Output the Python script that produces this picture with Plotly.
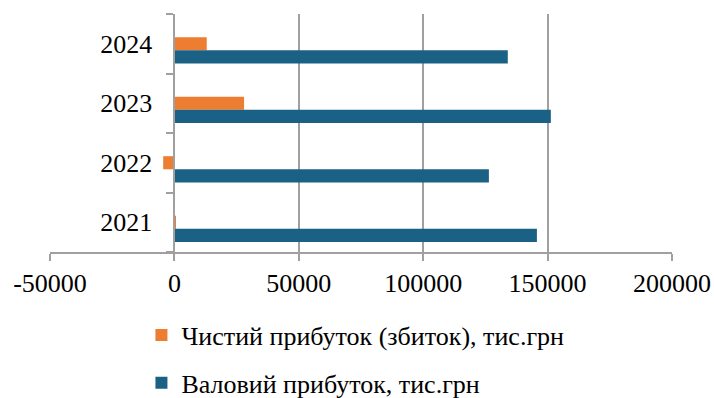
import plotly.graph_objects as go

# Years shown on the category axis (bottom to top)
years = ["2021", "2022", "2023", "2024"]

# Net profit (loss), thousand UAH
net_profit = [300, -4500, 28000, 13000]

# Gross profit, thousand UAH
gross_profit = [145700, 126400, 151300, 134000]

x_ticks = [-50000, 0, 50000, 100000, 150000, 200000]

ORANGE = "#ED7D31"
BLUE = "#1B6085"
GRID = "#A0A0A0"
FONT = "Times New Roman, Liberation Serif, DejaVu Serif, serif"

# plot area geometry (pixels)
W, H = 714, 398
L, R, T, B = 50, 42, 14, 146
x_min, x_max = -50000, 200000
zero_pos = (0 - x_min) / (x_max - x_min)

bar_w = 0.22

fig = go.Figure()
fig.add_trace(go.Bar(
    y=years, x=net_profit, orientation="h",
    name="Чистий прибуток (збиток), тис.грн",
    marker=dict(color=ORANGE, line=dict(width=0)),
    width=bar_w, offset=-0.11,
    legendgroup="a",
))
fig.add_trace(go.Bar(
    y=years, x=gross_profit, orientation="h",
    name="Валовий прибуток, тис.грн",
    marker=dict(color=BLUE, line=dict(width=0)),
    width=bar_w, offset=-0.33,
    legendgroup="b",
))

fig.update_layout(
    width=W, height=H,
    margin=dict(l=L, r=R, t=T, b=B, pad=0, autoexpand=False),
    paper_bgcolor="white", plot_bgcolor="white",
    font=dict(family=FONT, size=26, color="black"),
    barmode="overlay",
    showlegend=True,
    legend=dict(
        orientation="v",
        x=0.147, xanchor="left",
        y=-0.25, yanchor="top",
        traceorder="grouped",
        tracegroupgap=11,
        font=dict(family=FONT, size=26, color="black"),
        bgcolor="rgba(0,0,0,0)",
        itemwidth=30,
    ),
    xaxis=dict(
        range=[x_min, x_max],
        tickvals=x_ticks,
        ticktext=[str(v) for v in x_ticks],
        showgrid=True, gridcolor=GRID, gridwidth=2,
        zeroline=False,
        showline=True, linecolor=GRID, linewidth=2,
        ticks="outside", ticklen=7, tickwidth=2, tickcolor=GRID,
        tickfont=dict(family=FONT, size=26),
        fixedrange=True,
    ),
    yaxis=dict(
        type="category",
        categoryorder="array", categoryarray=years,
        range=[-0.5, 3.5],
        anchor="free", position=zero_pos,
        showline=True, linecolor=GRID, linewidth=2,
        showgrid=False, zeroline=False,
        ticks="outside", tickson="boundaries", ticklen=7, tickwidth=2, tickcolor=GRID,
        ticklabelstandoff=16,
        tickfont=dict(family=FONT, size=26),
        fixedrange=True,
    ),
)

fig.write_html("out.html")
